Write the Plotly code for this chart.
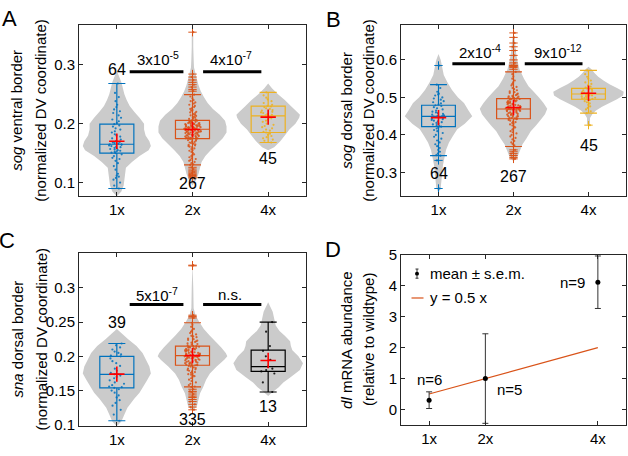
import plotly.graph_objects as go

W, H = 628, 456
FONT = "Liberation Sans, Arial, sans-serif"
BLUE, ORANGE, YELLOW, BLACK = "#0072BD", "#D95319", "#EDB120", "#000000"
GRAY, AX = "#CBCBCB", "#262626"

cats = [1, 2, 3]
cat_labels = ["1x", "2x", "4x"]

# ---------------- Panel A: sog ventral border ----------------
A_pts_1x = [0.268, 0.252, 0.245, 0.238, 0.232, 0.228, 0.224, 0.221, 0.218, 0.214, 0.21, 0.207, 0.204, 0.201,
            0.199, 0.197, 0.195, 0.192, 0.19, 0.187, 0.185, 0.182, 0.18, 0.178, 0.175, 0.173, 0.171, 0.169,
            0.168, 0.167, 0.166, 0.165, 0.165, 0.164, 0.163, 0.162, 0.161, 0.16, 0.159, 0.158, 0.157, 0.156,
            0.155, 0.154, 0.153, 0.152, 0.151, 0.15, 0.148, 0.145, 0.142, 0.14, 0.137, 0.133, 0.128, 0.122,
            0.115, 0.112, 0.11, 0.108, 0.105, 0.1, 0.095, 0.09]
A_pts_2x = [0.355, 0.284, 0.279, 0.274, 0.27, 0.266, 0.262, 0.258, 0.255,
            0.249, 0.246, 0.243, 0.24, 0.238, 0.236, 0.234, 0.232, 0.23, 0.228, 0.226, 0.225, 0.223, 0.222,
            0.22, 0.219, 0.218, 0.216, 0.215, 0.214, 0.213, 0.212, 0.211, 0.21, 0.209, 0.208, 0.207, 0.206, 0.206,
            0.205, 0.205, 0.204, 0.204, 0.203, 0.203, 0.202, 0.202, 0.201, 0.201, 0.2, 0.2, 0.2, 0.199, 0.199,
            0.198, 0.198, 0.197, 0.197, 0.197, 0.196, 0.196, 0.195, 0.195, 0.195, 0.194, 0.194, 0.194, 0.193,
            0.193, 0.193, 0.192, 0.192, 0.192, 0.191, 0.191, 0.191, 0.191, 0.19, 0.19,
            0.189, 0.189, 0.189, 0.188, 0.188, 0.188, 0.187, 0.187, 0.187, 0.186, 0.186, 0.186, 0.185, 0.185,
            0.184, 0.184, 0.184, 0.183, 0.183, 0.182, 0.182, 0.181, 0.181, 0.18, 0.18, 0.18, 0.179, 0.179,
            0.178, 0.178, 0.177, 0.177, 0.176, 0.176, 0.176, 0.175, 0.175, 0.175, 0.174, 0.174,
            0.173, 0.172, 0.171, 0.17, 0.169, 0.168, 0.167, 0.166, 0.165, 0.164, 0.163, 0.162, 0.161, 0.16,
            0.158, 0.157, 0.155, 0.154, 0.152, 0.15, 0.148, 0.147, 0.145, 0.143, 0.141, 0.14, 0.138, 0.137,
            0.135, 0.133, 0.131, 0.13,
            0.126, 0.123, 0.12, 0.118, 0.116, 0.114, 0.112, 0.11, 0.108]
A_pts_4x = [0.253, 0.248, 0.244, 0.241, 0.238, 0.235, 0.232, 0.23, 0.229, 0.228, 0.226, 0.225, 0.223, 0.222,
            0.22, 0.219, 0.218, 0.216, 0.215, 0.214, 0.213, 0.212, 0.211, 0.21, 0.209, 0.207, 0.205, 0.203,
            0.2, 0.198, 0.196, 0.194, 0.192, 0.19, 0.188, 0.186, 0.185, 0.183, 0.181, 0.179, 0.177, 0.175,
            0.173, 0.171, 0.168]
A_q1 = [0.150, 0.1745, 0.185]
A_med = [0.165, 0.1905, 0.213]
A_q3 = [0.199, 0.2055, 0.2295]
A_lo = [0.090, 0.130, 0.168]
A_hi = [0.268, 0.249, 0.253]
A_mean = [0.170, 0.190, 0.211]
A_n = ["64", "267", "45"]
A_n_y = [0.292, 0.099, 0.141]
A_vy_1x = [0.077, 0.085, 0.095, 0.105, 0.115, 0.125, 0.135, 0.145, 0.155, 0.162, 0.17, 0.18, 0.19, 0.2,
           0.21, 0.22, 0.23, 0.24, 0.25, 0.26, 0.27, 0.28, 0.29]
A_vw_1x = [0, 0.06, 0.09, 0.1, 0.11, 0.12, 0.2, 0.3, 0.42, 0.45, 0.43, 0.38, 0.36, 0.36,
           0.3, 0.23, 0.17, 0.13, 0.1, 0.08, 0.06, 0.03, 0]
A_vy_2x = [0.095, 0.105, 0.115, 0.125, 0.135, 0.145, 0.155, 0.165, 0.175, 0.185, 0.195, 0.205, 0.215,
           0.225, 0.235, 0.245, 0.255, 0.265, 0.275, 0.285, 0.295, 0.31, 0.33, 0.35, 0.36]
A_vw_2x = [0, 0.05, 0.08, 0.1, 0.12, 0.17, 0.24, 0.32, 0.4, 0.45, 0.45, 0.43, 0.36,
           0.27, 0.2, 0.15, 0.11, 0.08, 0.06, 0.04, 0.02, 0.015, 0.01, 0.01, 0]
A_vy_4x = [0.155, 0.16, 0.17, 0.18, 0.19, 0.2, 0.21, 0.215, 0.22, 0.23, 0.24, 0.25, 0.26, 0.268]
A_vw_4x = [0, 0.08, 0.16, 0.22, 0.28, 0.36, 0.41, 0.42, 0.38, 0.3, 0.22, 0.13, 0.05, 0]
A_p_text = ["3x10<sup>-5</sup>", "4x10<sup>-7</sup>"]
A_p_x = [1.54, 2.51]
A_p_y = 0.311
A_bar_x0 = [1.17, 2.14]
A_bar_x1 = [1.88, 2.91]
A_bar_y = 0.288

# ---------------- Panel B: sog dorsal border ----------------
B_pts_1x = [0.585, 0.534, 0.525, 0.515, 0.51, 0.508, 0.505, 0.5, 0.497, 0.494, 0.49, 0.487, 0.484, 0.481,
            0.479, 0.477, 0.474, 0.471, 0.468, 0.465, 0.462, 0.46, 0.458, 0.456, 0.454, 0.452, 0.451, 0.45,
            0.449, 0.448, 0.447, 0.446, 0.444, 0.442, 0.44, 0.438, 0.436, 0.434, 0.432, 0.43, 0.428, 0.426,
            0.424, 0.422, 0.42, 0.417, 0.413, 0.41, 0.405, 0.4, 0.395, 0.39, 0.385, 0.38, 0.375, 0.37,
            0.365, 0.36, 0.355, 0.35, 0.346, 0.3445, 0.332, 0.257]
B_pts_2x = [0.672, 0.66, 0.645, 0.635, 0.625, 0.612, 0.6, 0.592, 0.586, 0.585, 0.584, 0.583, 0.58, 0.575,
            0.568, 0.562, 0.556, 0.55, 0.545, 0.54, 0.536, 0.532, 0.528, 0.525, 0.522, 0.519, 0.516, 0.514,
            0.512, 0.51, 0.508, 0.506, 0.504, 0.503, 0.502, 0.501, 0.5, 0.499, 0.498, 0.497,
            0.496, 0.495, 0.494, 0.493, 0.492, 0.491, 0.49, 0.489, 0.488, 0.487, 0.486, 0.485, 0.484, 0.483,
            0.482, 0.481, 0.48, 0.479, 0.478, 0.477, 0.476, 0.475, 0.474, 0.473, 0.473, 0.472, 0.472, 0.471,
            0.471, 0.47, 0.47, 0.469, 0.469,
            0.468, 0.468, 0.467, 0.467, 0.466, 0.465, 0.465, 0.464, 0.463, 0.462, 0.461, 0.46, 0.459, 0.458,
            0.457, 0.456, 0.455, 0.454, 0.453, 0.452, 0.451, 0.45, 0.449, 0.448, 0.447, 0.446, 0.445, 0.444,
            0.443, 0.443,
            0.442, 0.44, 0.438, 0.436, 0.434, 0.432, 0.43, 0.428, 0.425, 0.422, 0.42, 0.417, 0.414, 0.41,
            0.407, 0.404, 0.4, 0.396, 0.392, 0.388, 0.384, 0.38, 0.376, 0.372, 0.369,
            0.36, 0.355, 0.35, 0.345, 0.34, 0.336]
B_pts_4x = [0.572, 0.562, 0.555, 0.55, 0.545, 0.54, 0.536, 0.532, 0.529, 0.526, 0.524, 0.523, 0.521, 0.519,
            0.517, 0.515, 0.513, 0.512, 0.511, 0.51, 0.509, 0.508, 0.507, 0.506, 0.505, 0.504, 0.503, 0.502,
            0.5, 0.499, 0.498, 0.497, 0.496, 0.495, 0.493, 0.49, 0.487, 0.484, 0.48, 0.476, 0.472, 0.468,
            0.463, 0.458, 0.426]
B_q1 = [0.422, 0.443, 0.495]
B_med = [0.4495, 0.469, 0.509]
B_q3 = [0.479, 0.4967, 0.524]
B_lo = [0.3445, 0.369, 0.458]
B_hi = [0.534, 0.568, 0.572]
B_mean = [0.446, 0.473, 0.511]
B_n = ["64", "267", "45"]
B_n_y = [0.297, 0.29, 0.373]
B_vy_1x = [0.245, 0.26, 0.28, 0.3, 0.32, 0.34, 0.36, 0.38, 0.4, 0.415, 0.43, 0.45, 0.465, 0.485, 0.5,
           0.52, 0.54, 0.56, 0.58, 0.6, 0.616]
B_vw_1x = [0, 0.03, 0.04, 0.05, 0.06, 0.08, 0.1, 0.14, 0.2, 0.25, 0.35, 0.45, 0.4, 0.34, 0.26,
           0.18, 0.12, 0.07, 0.05, 0.03, 0]
B_vy_2x = [0.33, 0.34, 0.355, 0.375, 0.39, 0.41, 0.425, 0.44, 0.455, 0.47, 0.485, 0.5, 0.515, 0.53,
           0.55, 0.575, 0.6, 0.625, 0.65, 0.675]
B_vw_2x = [0, 0.05, 0.08, 0.12, 0.17, 0.23, 0.3, 0.36, 0.42, 0.45, 0.4, 0.34, 0.27, 0.2,
           0.14, 0.08, 0.05, 0.03, 0.02, 0]
B_vy_4x = [0.42, 0.43, 0.445, 0.455, 0.465, 0.475, 0.485, 0.495, 0.505, 0.515, 0.525, 0.535, 0.545,
           0.555, 0.565, 0.575, 0.582]
B_vw_4x = [0, 0.02, 0.02, 0.05, 0.1, 0.18, 0.28, 0.38, 0.46, 0.47, 0.38, 0.28, 0.2, 0.13, 0.08, 0.04, 0]
B_p_text = ["2x10<sup>-4</sup>", "9x10<sup>-12</sup>"]
B_p_x = [1.556, 2.59]
B_p_y = 0.622
B_bar_x0 = [1.185, 2.15]
B_bar_x1 = [1.887, 2.92]
B_bar_y = 0.590

# ---------------- Panel C: sna dorsal border ----------------
C_pts_1x = [0.2187, 0.216, 0.213, 0.21, 0.207, 0.205, 0.203, 0.201, 0.2, 0.197, 0.193, 0.19, 0.186, 0.182,
            0.179, 0.176, 0.174, 0.1737, 0.172, 0.17, 0.168, 0.165, 0.162, 0.16, 0.158, 0.156, 0.155, 0.154,
            0.152, 0.15, 0.147, 0.143, 0.14, 0.136, 0.132, 0.128, 0.122, 0.115, 0.106]
C_pts_2x = [0.333, 0.332, 0.26, 0.258, 0.256,
            0.249, 0.246, 0.243, 0.24, 0.238, 0.236, 0.234, 0.232, 0.23, 0.229, 0.228, 0.226, 0.225, 0.224,
            0.223, 0.222, 0.221, 0.22, 0.219, 0.218, 0.217, 0.216, 0.215,
            0.215, 0.214, 0.214, 0.213, 0.213, 0.212, 0.212, 0.211, 0.211, 0.21, 0.21, 0.209, 0.209, 0.208,
            0.208, 0.207, 0.207, 0.206, 0.206, 0.205, 0.205, 0.204, 0.204, 0.203, 0.203, 0.202, 0.202, 0.202,
            0.201, 0.201,
            0.2, 0.2, 0.2, 0.199, 0.199, 0.198, 0.198, 0.197, 0.197, 0.196, 0.196, 0.195, 0.195, 0.194, 0.194,
            0.193, 0.193, 0.192, 0.192, 0.191, 0.191, 0.19, 0.19, 0.189, 0.189, 0.188, 0.188, 0.187, 0.187,
            0.187,
            0.186, 0.185, 0.184, 0.183, 0.182, 0.181, 0.18, 0.179, 0.178, 0.177, 0.176, 0.175, 0.174, 0.173,
            0.172, 0.171, 0.17, 0.168, 0.166, 0.164, 0.162, 0.16, 0.158, 0.156, 0.1554,
            0.152, 0.149, 0.148, 0.145, 0.142, 0.14, 0.137, 0.134, 0.13, 0.126, 0.122]
C_pts_4x = [0.25, 0.236, 0.215, 0.208, 0.2, 0.195, 0.185, 0.182, 0.18, 0.178, 0.175, 0.162, 0.148]
C_q1 = [0.154, 0.187, 0.178]
C_med = [0.1737, 0.201, 0.185]
C_q3 = [0.2, 0.215, 0.209]
C_lo = [0.106, 0.1554, 0.148]
C_hi = [0.2187, 0.249, 0.25]
C_mean = [0.174, 0.201, 0.194]
C_n = ["39", "335", "13"]
C_n_y = [0.249, 0.108, 0.127]
C_vy_1x = [0.098, 0.105, 0.115, 0.125, 0.138, 0.147, 0.156, 0.165, 0.175, 0.185, 0.196, 0.205, 0.215,
           0.225, 0.233, 0.24]
C_vw_1x = [0, 0.06, 0.1, 0.14, 0.23, 0.3, 0.35, 0.4, 0.45, 0.43, 0.38, 0.34, 0.26, 0.15, 0.07, 0]
C_vy_2x = [0.12, 0.128, 0.137, 0.146, 0.155, 0.166, 0.175, 0.185, 0.195, 0.2, 0.205, 0.213, 0.22, 0.23,
           0.24, 0.25, 0.26, 0.27, 0.3, 0.335]
C_vw_2x = [0, 0.06, 0.08, 0.1, 0.14, 0.18, 0.23, 0.32, 0.42, 0.46, 0.44, 0.38, 0.32, 0.23,
           0.15, 0.09, 0.04, 0.015, 0.01, 0]
C_vy_4x = [0.142, 0.148, 0.155, 0.162, 0.17, 0.18, 0.19, 0.2, 0.209, 0.215, 0.222, 0.23, 0.237, 0.245,
           0.255, 0.265, 0.279]
C_vw_4x = [0, 0.06, 0.14, 0.2, 0.3, 0.42, 0.46, 0.4, 0.32, 0.3, 0.29, 0.22, 0.15, 0.1, 0.08, 0.06, 0]
C_p_text = ["5x10<sup>-7</sup>", "n.s."]
C_p_x = [1.53, 2.5]
C_p_y = 0.29
C_bar_x0 = [1.17, 2.14]
C_bar_x1 = [1.88, 2.91]
C_bar_y = 0.2757

# ---------------- Panel D: dl mRNA abundance ----------------
D_x = [1, 2, 4]
D_mean = [0.3, 1.0, 4.12]
D_sem = [0.27, 1.45, 0.85]
D_fit_x = [1, 4]
D_fit_y = [0.5, 2.0]
D_n_text = ["n=6", "n=5", "n=9"]
D_n_x = [1.0, 2.43, 3.54]
D_n_y = [0.97, 0.66, 4.12]


def px_x(p):
    return p / W


def px_y(p):
    return 1 - p / H


fig = go.Figure()
annotations = []
shapes = []

panels = [
    dict(key="", xdom=(79, 306), ydom=(17, 194), yr=[0.077, 0.3665], tv=[0.1, 0.2, 0.3],
         pts=[A_pts_1x, A_pts_2x, A_pts_4x], q1=A_q1, med=A_med, q3=A_q3, lo=A_lo, hi=A_hi, mean=A_mean,
         vy=[A_vy_1x, A_vy_2x, A_vy_4x], vw=[A_vw_1x, A_vw_2x, A_vw_4x], n=A_n, n_y=A_n_y,
         p_text=A_p_text, p_x=A_p_x, p_y=A_p_y, bx0=A_bar_x0, bx1=A_bar_x1, by=A_bar_y,
         colors=[BLUE, ORANGE, YELLOW],
         title=["<i>sog</i> ventral border", "(normalized DV coordinate)"], tx=[17, 41]),
    dict(key="2", xdom=(401, 626), ydom=(17, 194), yr=[0.2365, 0.692], tv=[0.3, 0.4, 0.5, 0.6],
         pts=[B_pts_1x, B_pts_2x, B_pts_4x], q1=B_q1, med=B_med, q3=B_q3, lo=B_lo, hi=B_hi, mean=B_mean,
         vy=[B_vy_1x, B_vy_2x, B_vy_4x], vw=[B_vw_1x, B_vw_2x, B_vw_4x], n=B_n, n_y=B_n_y,
         p_text=B_p_text, p_x=B_p_x, p_y=B_p_y, bx0=B_bar_x0, bx1=B_bar_x1, by=B_bar_y,
         colors=[BLUE, ORANGE, YELLOW],
         title=["<i>sog</i> dorsal border", "(normalized DV coordinate)"], tx=[347, 369]),
    dict(key="3", xdom=(79, 306), ydom=(253, 432), yr=[0.0986, 0.3506], tv=[0.1, 0.15, 0.2, 0.25, 0.3],
         pts=[C_pts_1x, C_pts_2x, C_pts_4x], q1=C_q1, med=C_med, q3=C_q3, lo=C_lo, hi=C_hi, mean=C_mean,
         vy=[C_vy_1x, C_vy_2x, C_vy_4x], vw=[C_vw_1x, C_vw_2x, C_vw_4x], n=C_n, n_y=C_n_y,
         p_text=C_p_text, p_x=C_p_x, p_y=C_p_y, bx0=C_bar_x0, bx1=C_bar_x1, by=C_bar_y,
         colors=[BLUE, ORANGE, BLACK],
         title=["<i>sna</i> dorsal border", "(normalized DV coordinate)"], tx=[17, 41]),
]

axis_common = dict(showline=True, mirror="ticks", linecolor=AX, linewidth=1, ticks="inside", ticklen=4,
                   tickcolor=AX, showgrid=False, zeroline=False,
                   tickfont=dict(family=FONT, size=15, color="#000000"))

layout_axes = {}
for pnl in panels:
    k = pnl["key"]
    xref, yref = "x" + k, "y" + k
    layout_axes["xaxis" + k] = dict(domain=[px_x(pnl["xdom"][0]), px_x(pnl["xdom"][1])], range=[0.5, 3.5],
                                    tickvals=cats, ticktext=cat_labels, anchor=yref, **axis_common)
    layout_axes["yaxis" + k] = dict(domain=[px_y(pnl["ydom"][1]), px_y(pnl["ydom"][0])], range=pnl["yr"],
                                    tickvals=pnl["tv"], anchor=xref, **axis_common)
    for i, c in enumerate(cats):
        # violin outline from the read density profile, drawn beneath all traces
        vy, vw = pnl["vy"][i], pnl["vw"][i]
        xs = [c + w for w in vw] + [c - w for w in reversed(vw)]
        ys = list(vy) + list(reversed(vy))
        path = "M " + " L ".join(f"{x:.4f},{y:.4f}" for x, y in zip(xs, ys)) + " Z"
        shapes.append(dict(type="path", path=path, xref=xref, yref=yref, fillcolor=GRAY,
                           line=dict(width=0), layer="below"))
    for i, c in enumerate(cats):
        col = pnl["colors"][i]
        # jittered raw points
        fig.add_trace(go.Box(y=pnl["pts"][i], x0=c, boxpoints="all", jitter=1, pointpos=0, width=0.22,
                             fillcolor="rgba(0,0,0,0)", line=dict(width=0, color=col),
                             marker=dict(color=col, size=2.2, opacity=0.85), hoverinfo="skip",
                             showlegend=False, xaxis=xref, yaxis=yref))
    for i, c in enumerate(cats):
        col = pnl["colors"][i]
        fig.add_trace(go.Box(x=[c], q1=[pnl["q1"][i]], median=[pnl["med"][i]], q3=[pnl["q3"][i]],
                             lowerfence=[pnl["lo"][i]], upperfence=[pnl["hi"][i]], width=0.45,
                             whiskerwidth=0.5, fillcolor="rgba(0,0,0,0)", line=dict(color=col, width=1.2),
                             boxpoints=False, showlegend=False, hoverinfo="skip", xaxis=xref, yaxis=yref))
        outl = [v for v in pnl["pts"][i] if v < pnl["lo"][i] or v > pnl["hi"][i]]
        if outl:
            fig.add_trace(go.Scatter(x=[c] * len(outl), y=outl, mode="markers",
                                     marker=dict(symbol="cross-thin", size=6, line=dict(color=col, width=1)),
                                     showlegend=False, hoverinfo="skip", xaxis=xref, yaxis=yref))
    fig.add_trace(go.Scatter(x=cats, y=pnl["mean"], mode="markers",
                             marker=dict(symbol="cross-thin", size=11, line=dict(color="#FF0000", width=1.6)),
                             showlegend=False, hoverinfo="skip", xaxis=xref, yaxis=yref))
    # n labels
    for i, c in enumerate(cats):
        annotations.append(dict(x=c, y=pnl["n_y"][i], xref=xref, yref=yref, text=pnl["n"][i], showarrow=False,
                                font=dict(family=FONT, size=16, color="#000000"), xanchor="center",
                                yanchor="middle"))
    # p-values and bars
    for j in range(2):
        annotations.append(dict(x=pnl["p_x"][j], y=pnl["p_y"], xref=xref, yref=yref, text=pnl["p_text"][j],
                                showarrow=False, font=dict(family=FONT, size=15, color="#000000"),
                                xanchor="center", yanchor="middle"))
        shapes.append(dict(type="line", xref=xref, yref=yref, x0=pnl["bx0"][j], x1=pnl["bx1"][j],
                           y0=pnl["by"], y1=pnl["by"], line=dict(color="#000000", width=3)))
    # y titles
    ymid = (pnl["ydom"][0] + pnl["ydom"][1]) / 2
    for t, tx in zip(pnl["title"], pnl["tx"]):
        annotations.append(dict(x=px_x(tx), y=px_y(ymid), xref="paper", yref="paper", text=t, textangle=-90,
                                showarrow=False, font=dict(family=FONT, size=15, color="#000000"),
                                xanchor="center", yanchor="middle"))

# Panel D
layout_axes["xaxis4"] = dict(domain=[px_x(401), px_x(626)], range=[0.5, 4.5], tickvals=D_x,
                             ticktext=cat_labels, anchor="y4", **axis_common)
layout_axes["yaxis4"] = dict(domain=[px_y(431), px_y(255)], range=[-0.5, 5], tickvals=[0, 1, 2, 3, 4, 5],
                             anchor="x4", **axis_common)
fig.add_trace(go.Scatter(x=D_fit_x, y=D_fit_y, mode="lines", line=dict(color=ORANGE, width=1.2),
                         showlegend=False, hoverinfo="skip", xaxis="x4", yaxis="y4"))
fig.add_trace(go.Scatter(x=D_x, y=D_mean, mode="markers", marker=dict(color="#000000", size=5),
                         error_y=dict(type="data", array=D_sem, color="#333333", thickness=1, width=3),
                         showlegend=False, hoverinfo="skip", xaxis="x4", yaxis="y4"))
for t, x, y in zip(D_n_text, D_n_x, D_n_y):
    annotations.append(dict(x=x, y=y, xref="x4", yref="y4", text=t, showarrow=False,
                            font=dict(family=FONT, size=15, color="#000000"), xanchor="center", yanchor="middle"))
for t, tx in zip(["<i>dl</i> mRNA abundance", "(relative to wildtype)"], [347, 369]):
    annotations.append(dict(x=px_x(tx), y=px_y(343), xref="paper", yref="paper", text=t, textangle=-90,
                            showarrow=False, font=dict(family=FONT, size=15, color="#000000"),
                            xanchor="center", yanchor="middle"))
# manual legend in D
annotations.append(dict(x=px_x(428), y=px_y(274), xref="paper", yref="paper", text="mean ± s.e.m.",
                        showarrow=False, font=dict(family=FONT, size=15, color="#000000"),
                        xanchor="left", yanchor="middle"))
annotations.append(dict(x=px_x(428), y=px_y(299), xref="paper", yref="paper", text="y = 0.5 x",
                        showarrow=False, font=dict(family=FONT, size=15, color="#000000"),
                        xanchor="left", yanchor="middle"))
shapes.append(dict(type="line", xref="paper", yref="paper", x0=px_x(417), x1=px_x(417), y0=px_y(269.5),
                   y1=px_y(279), line=dict(color="#333333", width=1)))
for yy in (269.5, 279):
    shapes.append(dict(type="line", xref="paper", yref="paper", x0=px_x(415.5), x1=px_x(418.5), y0=px_y(yy),
                       y1=px_y(yy), line=dict(color="#333333", width=1)))
shapes.append(dict(type="circle", xref="paper", yref="paper", x0=px_x(415), x1=px_x(419), y0=px_y(276.3),
                   y1=px_y(272.3), fillcolor="#000000", line=dict(width=0)))
shapes.append(dict(type="line", xref="paper", yref="paper", x0=px_x(411.5), x1=px_x(423.5), y0=px_y(299.5),
                   y1=px_y(299.5), line=dict(color=ORANGE, width=1.2)))

# panel letters
for t, x, y in [("A", 9, 10), ("B", 333.5, 10.5), ("C", 7, 239.5), ("D", 332.5, 249.5)]:
    annotations.append(dict(x=px_x(x), y=px_y(y), xref="paper", yref="paper", text=t, showarrow=False,
                            font=dict(family=FONT, size=22, color="#000000"), xanchor="center",
                            yanchor="middle"))

fig.update_layout(width=W, height=H, autosize=False, margin=dict(l=0, r=0, t=0, b=0),
                  paper_bgcolor="white", plot_bgcolor="white", boxmode="overlay", hovermode=False,
                  annotations=annotations, shapes=shapes, **layout_axes)
fig.write_html("out.html", config={"displayModeBar": False, "staticPlot": True},
               post_script="document.body.style.margin='0';document.body.style.padding='0';"
                           "document.documentElement.style.overflow='hidden';")
